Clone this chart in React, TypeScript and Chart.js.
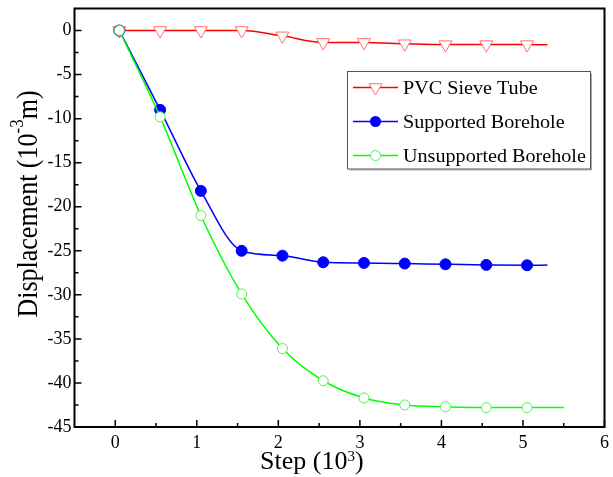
import React, { useEffect, useRef } from "react";
import { Chart, registerables } from "chart.js";

Chart.register(...registerables);

// ---- Data (Step in 10^3, Displacement in 10^-3 m) ----
const steps = [0.05, 0.55, 1.05, 1.55, 2.05, 2.55, 3.05, 3.55, 4.05, 4.55, 5.05];
const pvcValues = [0, 0, 0, 0, -0.6, -1.35, -1.35, -1.5, -1.6, -1.6, -1.6];
const supportedValues = [0, -9.0, -18.2, -25.0, -25.55, -26.3, -26.38, -26.45, -26.53, -26.6, -26.64];
const unsupportedValues = [0, -9.8, -21.0, -29.9, -36.1, -39.75, -41.7, -42.5, -42.7, -42.8, -42.8];
// line continuation beyond the last marker
const pvcTail = { x: 5.3, y: -1.62 };
const supportedTail = { x: 5.3, y: -26.62 };
const unsupportedTail = { x: 5.5, y: -42.8 };

const xTickValues = [0, 1, 2, 3, 4, 5, 6];
const xMinorValues = [0.5, 1.5, 2.5, 3.5, 4.5, 5.5];
const yTickValues = [0, -5, -10, -15, -20, -25, -30, -35, -40, -45];
const yMinorValues = [-2.5, -7.5, -12.5, -17.5, -22.5, -27.5, -32.5, -37.5, -42.5];

const seriesNames = ["PVC Sieve Tube", "Supported Borehole", "Unsupported Borehole"];

const FONT = "'Liberation Serif', 'Times New Roman', serif";

const RED = "#ff0000";
const RED_MK = "#ff7070";
const BLUE = "#0000ff";
const GREEN = "#00ff00";
const GREEN_MK = "#55ee55";

function toPoints(ys: number[], tail: { x: number; y: number }) {
  return steps.map((x, i) => ({ x, y: ys[i] })).concat([tail]);
}
function radii(r: number) {
  return steps.map(() => r).concat([0]);
}

function drawStretchedText(ctx: CanvasRenderingContext2D, text: string, x: number, y: number, sx: number) {
  ctx.save();
  ctx.translate(x, y);
  ctx.scale(sx, 1);
  ctx.fillText(text, 0, 0);
  ctx.restore();
}

const decorPlugin = {
  id: "decor",
  afterDraw(chart: any) {
    const { ctx, chartArea: a, scales } = chart;
    const xs = scales.x;
    const ys = scales.y;
    ctx.save();

    // frame
    ctx.strokeStyle = "#000";
    ctx.lineWidth = 2;
    ctx.strokeRect(a.left, a.top, a.right - a.left, a.bottom - a.top);

    // inward ticks
    ctx.lineWidth = 1.5;
    ctx.beginPath();
    xTickValues.forEach((v) => {
      const p = xs.getPixelForValue(v);
      ctx.moveTo(p, a.bottom);
      ctx.lineTo(p, a.bottom - 7);
    });
    xMinorValues.forEach((v) => {
      const p = xs.getPixelForValue(v);
      ctx.moveTo(p, a.bottom);
      ctx.lineTo(p, a.bottom - 4);
    });
    yTickValues.forEach((v) => {
      const p = ys.getPixelForValue(v);
      ctx.moveTo(a.left, p);
      ctx.lineTo(a.left + 7, p);
    });
    yMinorValues.forEach((v) => {
      const p = ys.getPixelForValue(v);
      ctx.moveTo(a.left, p);
      ctx.lineTo(a.left + 4, p);
    });
    ctx.stroke();

    ctx.fillStyle = "#000";
    ctx.textBaseline = "alphabetic";
    ctx.textAlign = "left";

    // x title: Step (10^3)
    {
      const main = "26px " + FONT;
      const sup = "15px " + FONT;
      let x = 260;
      const base = 469;
      ctx.font = main;
      const t1 = "Step (10";
      ctx.fillText(t1, x, base);
      x += ctx.measureText(t1).width;
      ctx.font = sup;
      ctx.fillText("3", x, base - 8);
      x += ctx.measureText("3").width;
      ctx.font = main;
      ctx.fillText(")", x, base);
    }

    // y title: Displacement (10^-3 m)
    {
      const main = "26px " + FONT;
      const sup = "17px " + FONT;
      ctx.font = main;
      const t1 = "Displacement (10";
      const t3 = "m)";
      const w1 = ctx.measureText(t1).width;
      const w3 = ctx.measureText(t3).width;
      ctx.font = sup;
      const w2 = ctx.measureText("-3").width;
      const total = w1 + w2 + w3;
      ctx.save();
      ctx.translate(37, 204);
      ctx.rotate(-Math.PI / 2);
      ctx.scale(1, 1.1);
      let x = -total / 2;
      ctx.font = main;
      ctx.fillText(t1, x, 0);
      x += w1;
      ctx.font = sup;
      ctx.fillText("-3", x, -13);
      x += w2;
      ctx.font = main;
      ctx.fillText(t3, x, 0);
      ctx.restore();
    }

    // legend
    {
      const lx = 347.5, ly = 71.5, lw = 243, lh = 97.5;
      ctx.fillStyle = "#fff";
      ctx.fillRect(lx, ly, lw, lh);
      ctx.strokeStyle = "#aaa";
      ctx.lineWidth = 1;
      ctx.beginPath();
      ctx.moveTo(lx + lw + 1, ly + 2);
      ctx.lineTo(lx + lw + 1, ly + lh + 1);
      ctx.lineTo(lx + 2, ly + lh + 1);
      ctx.stroke();
      ctx.strokeStyle = "#555";
      ctx.strokeRect(lx, ly, lw, lh);

      const rows = [87.5, 121.5, 155.5];
      const colors = [RED, BLUE, GREEN];
      rows.forEach((ry, i) => {
        ctx.strokeStyle = colors[i];
        ctx.lineWidth = 1.5;
        ctx.beginPath();
        ctx.moveTo(353, ry);
        ctx.lineTo(398, ry);
        ctx.stroke();
        const cx = 375.5;
        if (i === 0) {
          const r = 7.5;
          ctx.beginPath();
          ctx.moveTo(cx, ry + r);
          ctx.lineTo(cx - r * Math.sin(Math.PI / 3), ry - r / 2);
          ctx.lineTo(cx + r * Math.sin(Math.PI / 3), ry - r / 2);
          ctx.closePath();
          ctx.fillStyle = "#fff";
          ctx.fill();
          ctx.strokeStyle = RED_MK;
          ctx.lineWidth = 1;
          ctx.stroke();
        } else if (i === 1) {
          ctx.beginPath();
          ctx.arc(cx, ry, 5.5, 0, Math.PI * 2);
          ctx.fillStyle = BLUE;
          ctx.fill();
        } else {
          ctx.beginPath();
          ctx.arc(cx, ry, 5, 0, Math.PI * 2);
          ctx.fillStyle = "#fff";
          ctx.fill();
          ctx.strokeStyle = GREEN_MK;
          ctx.lineWidth = 1;
          ctx.stroke();
        }
        ctx.fillStyle = "#000";
        ctx.font = "19px " + FONT;
        drawStretchedText(ctx, seriesNames[i], 403, ry + 6.5, 1.06);
      });
    }

    ctx.restore();
  },
};

export default function App() {
  const ref = useRef<HTMLCanvasElement>(null);

  useEffect(() => {
    if (!ref.current) return;
    const chart = new Chart(ref.current, {
      type: "line",
      data: {
        datasets: [
          {
            label: seriesNames[0],
            data: toPoints(pvcValues, pvcTail),
            borderColor: RED,
            borderWidth: 1.5,
            pointStyle: "triangle",
            pointRotation: 180,
            pointRadius: radii(7.5),
            pointBackgroundColor: "#fff",
            pointBorderColor: RED_MK,
            pointBorderWidth: 1,
            cubicInterpolationMode: "monotone",
            order: 3,
          },
          {
            label: seriesNames[1],
            data: toPoints(supportedValues, supportedTail),
            borderColor: BLUE,
            borderWidth: 1.5,
            pointStyle: "circle",
            pointRadius: radii(5.5),
            pointBackgroundColor: BLUE,
            pointBorderColor: BLUE,
            pointBorderWidth: 1,
            cubicInterpolationMode: "monotone",
            order: 2,
          },
          {
            label: seriesNames[2],
            data: toPoints(unsupportedValues, unsupportedTail),
            borderColor: GREEN,
            borderWidth: 1.5,
            pointStyle: "circle",
            pointRadius: radii(5),
            pointBackgroundColor: "#fff",
            pointBorderColor: GREEN_MK,
            pointBorderWidth: 1,
            cubicInterpolationMode: "monotone",
            order: 1,
          },
        ],
      },
      options: {
        animation: false,
        responsive: false,
        devicePixelRatio: 1,
        layout: { padding: { top: 4, right: 8, left: 0, bottom: 0 } },
        plugins: { legend: { display: false }, tooltip: { enabled: false } },
        scales: {
          x: {
            type: "linear",
            min: -0.5,
            max: 6,
            grid: { display: false, drawTicks: false },
            border: { display: false },
            afterBuildTicks: (s: any) => {
              s.ticks = xTickValues.map((v) => ({ value: v }));
            },
            afterFit: (s: any) => {
              s.height = 50;
              s.paddingLeft = 0;
              s.paddingRight = 0;
            },
            ticks: {
              color: "#000",
              padding: 5,
              maxRotation: 0,
              font: { family: FONT, size: 18 },
            },
          },
          y: {
            type: "linear",
            min: -45,
            max: 2.5,
            grid: { display: false, drawTicks: false },
            border: { display: false },
            afterBuildTicks: (s: any) => {
              s.ticks = yTickValues.map((v) => ({ value: v }));
            },
            afterFit: (s: any) => {
              s.width = 74.5;
              s.paddingTop = 0;
              s.paddingBottom = 0;
            },
            ticks: {
              color: "#000",
              padding: 3,
              font: { family: FONT, size: 18 },
            },
          },
        },
      } as any,
      plugins: [decorPlugin],
    });
    return () => chart.destroy();
  }, []);

  return (
    <div style={{ position: "absolute", left: 0, top: 0, width: 613, height: 477, background: "#fff" }}>
      <canvas ref={ref} width={613} height={477} style={{ display: "block" }} />
    </div>
  );
}
